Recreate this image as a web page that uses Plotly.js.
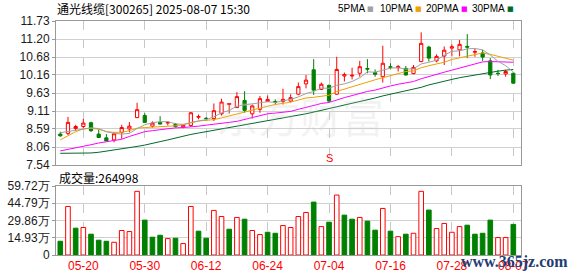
<!DOCTYPE html>
<html><head><meta charset="utf-8">
<script src="https://cdn.plot.ly/plotly-3.0.1.min.js"></script>
<style>html,body{margin:0;padding:0;background:#fff}#chart{width:578px;height:276px}</style>
</head><body><div id="chart"></div>
<script>
const dates = ['05-15','05-16','05-19','05-20','05-21','05-22','05-23','05-26','05-27','05-28','05-29','05-30',
 '06-03','06-04','06-05','06-06','06-09','06-10','06-11','06-12','06-13','06-16','06-17','06-18','06-19','06-20','06-23','06-24','06-25','06-26','06-27','06-30',
 '07-01','07-02','07-03','07-04','07-07','07-08','07-09','07-10','07-11','07-14','07-15','07-16','07-17','07-18','07-21','07-22','07-23','07-24','07-25','07-28','07-29','07-30','07-31',
 '08-01','08-04','08-05','08-06','08-07'];
const openP  = [8.44,8.46,8.60,8.66,8.77,8.44,8.33,8.27,8.49,8.59,8.92,8.98,8.67,8.78,8.76,8.72,8.65,8.69,8.93,8.90,8.89,9.03,9.30,9.21,9.42,9.03,9.16,9.39,9.39,9.39,
 9.40,9.60,9.90,10.31,9.74,9.86,9.60,10.13,10.13,10.21,10.35,10.23,10.11,10.40,10.37,10.35,10.20,10.55,10.97,10.57,10.71,10.94,10.89,10.99,10.82,10.80,10.57,10.21,10.19,10.21];
const highP  = [8.51,8.94,8.71,8.88,8.80,8.57,8.44,8.49,8.71,8.79,9.35,9.05,8.81,8.96,8.81,8.76,8.73,9.08,9.01,8.93,9.33,9.47,9.33,9.66,9.69,9.30,9.55,9.56,9.45,9.76,
 9.60,9.94,10.16,10.62,9.94,9.88,10.69,10.23,10.37,10.57,10.62,10.32,11.01,10.50,10.45,10.42,10.45,11.40,11.01,10.76,10.99,11.05,11.18,11.35,10.92,10.89,10.65,10.31,10.31,10.23];
const lowP   = [8.36,8.41,8.54,8.61,8.50,8.34,8.24,8.20,8.30,8.49,8.90,8.77,8.63,8.73,8.69,8.63,8.61,8.65,8.87,8.82,8.82,8.98,9.04,9.20,9.06,8.89,9.06,9.39,9.30,9.30,
 9.36,9.57,9.77,9.58,9.72,9.38,9.58,9.97,10.03,10.11,10.21,10.11,9.94,10.32,10.26,10.14,10.18,10.53,10.55,10.53,10.45,10.70,10.70,10.65,10.69,10.57,10.04,10.13,10.11,9.92];
const closeP = [8.39,8.78,8.66,8.76,8.54,8.34,8.24,8.45,8.63,8.67,9.15,8.78,8.76,8.73,8.78,8.66,8.70,9.06,8.95,8.89,9.12,9.37,9.33,9.53,9.13,9.26,9.47,9.45,9.37,9.45,
 9.50,9.82,10.01,9.72,9.89,9.40,10.32,10.17,10.15,10.40,10.33,10.18,10.50,10.38,10.40,10.16,10.38,11.08,10.65,10.70,10.88,10.98,11.05,10.97,10.84,10.68,10.16,10.20,10.26,9.92];
const prevClose = 8.45;
const ma5  = [8.48,8.52,8.56,8.60,8.62,8.60,8.51,8.46,8.44,8.46,8.60,8.71,8.77,8.80,8.80,8.74,8.72,8.78,8.82,8.86,8.94,9.06,9.13,9.25,9.29,9.32,9.35,9.38,9.36,9.40,9.45,
 9.52,9.62,9.68,9.78,9.77,9.86,9.90,9.97,10.08,10.25,10.24,10.30,10.36,10.37,10.33,10.34,10.48,10.53,10.59,10.73,10.85,10.86,10.92,10.93,10.89,10.74,10.56,10.43,10.25];
const ma10 = [8.27,8.38,8.51,8.59,8.61,8.58,8.51,8.49,8.49,8.54,8.61,8.63,8.64,8.65,8.66,8.68,8.71,8.77,8.82,8.84,8.86,8.91,8.97,9.03,9.07,9.13,9.20,9.25,9.30,9.33,9.37,
 9.43,9.49,9.51,9.55,9.57,9.68,9.75,9.82,9.90,9.97,10.02,10.08,10.14,10.20,10.26,10.28,10.37,10.43,10.47,10.53,10.61,10.66,10.72,10.76,10.80,10.76,10.70,10.66,10.59];
const ma20 = [7.95,7.99,8.04,8.08,8.13,8.18,8.21,8.24,8.29,8.37,8.45,8.51,8.54,8.57,8.59,8.62,8.63,8.64,8.67,8.70,8.72,8.75,8.78,8.81,8.86,8.92,8.98,9.03,9.05,9.08,9.10,
 9.16,9.22,9.27,9.33,9.36,9.44,9.50,9.56,9.63,9.68,9.72,9.79,9.84,9.89,9.93,9.97,10.05,10.12,10.18,10.24,10.30,10.36,10.42,10.48,10.54,10.55,10.55,10.55,10.53];
const ma30 = [7.88,7.88,7.88,7.88,7.89,7.91,7.94,7.97,8.00,8.04,8.08,8.12,8.16,8.22,8.27,8.33,8.39,8.43,8.47,8.51,8.55,8.59,8.63,8.67,8.71,8.74,8.78,8.82,8.86,8.90,8.93,
 8.98,9.03,9.08,9.13,9.17,9.23,9.28,9.33,9.39,9.44,9.49,9.55,9.60,9.64,9.68,9.73,9.80,9.87,9.93,9.98,10.03,10.08,10.12,10.17,10.21,10.24,10.27,10.30,10.32];
const volume = [11.9,42.0,23.2,23.8,18.0,12.8,11.9,11.0,21.2,20.3,55.1,30.2,15.4,17.1,14.2,14.5,9.9,42.0,20.6,14.5,38.6,33.3,22.3,32.5,31.0,21.2,17.7,19.7,18.8,25.5,23.8,
 33.3,36.8,45.8,24.6,28.4,51.9,34.5,31.0,32.5,29.3,21.5,40.3,20.6,15.9,18.0,18.8,55.1,38.9,22.9,27.3,19.7,24.6,25.8,18.0,18.8,30.2,15.1,15.1,26.5];
const priceTicks = [7.54,8.06,8.59,9.11,9.63,10.16,10.68,11.20,11.73];
const priceTickText = ['7.54','8.06','8.59','9.11','9.63','10.16','10.68','11.20','11.73'];
const volTicks = [0,14.93,29.86,44.79,59.72];
const volTickText = ['0','14.93万','29.86万','44.79万','59.72万'];
const dateTicks = ['05-20','05-30','06-12','06-24','07-04','07-16','07-28','08-07'];
const titleText = '通光线缆[300265] 2025-08-07 15:30';
const lastVolText = '成交量:264998';
const legendNames = ['5PMA','10PMA','20PMA','30PMA'];
const signalDate = '07-04';
const signalText = 'S';

const RED = '#ff0000', GREEN = '#008000';
const maColors = ['#a0a0a0', '#f0a000', '#ff00ff', '#006a2a'];
const idx = dates.map((d, i) => i);
const tickIdx = dateTicks.map(d => dates.indexOf(d));
const up = closeP.map((c, i) => c >= (i === 0 ? prevClose : closeP[i - 1]));

const W = 578, H = 276, L = 56, R = 57, T = 21, B = 21;
const pw = W - L - R, ph = H - T - B;
const px = x => (x - L) / pw;
const py = y => (H - B - y) / ph;

const maLine = (y, color, name) => ({type: 'scatter', mode: 'lines', x: idx, y: y, name: name,
  line: {color: color, width: 1}, xaxis: 'x', yaxis: 'y', hoverinfo: 'skip'});

const traces = [
  maLine(ma30, maColors[3], legendNames[3]),
  maLine(ma20, maColors[2], legendNames[2]),
  maLine(ma10, maColors[1], legendNames[1]),
  maLine(ma5, maColors[0], legendNames[0]),
  {type: 'candlestick', x: idx, open: openP, high: highP, low: lowP, close: closeP,
   xaxis: 'x', yaxis: 'y', whiskerwidth: 0,
   increasing: {line: {color: RED, width: 1}, fillcolor: '#ffffff'},
   decreasing: {line: {color: GREEN, width: 1}, fillcolor: GREEN}, hoverinfo: 'skip'},
  {type: 'bar', x: idx, y: volume, xaxis: 'x2', yaxis: 'y2', width: 0.6,
   marker: {color: up.map(u => u ? '#ffffff' : GREEN), line: {color: up.map(u => u ? RED : GREEN), width: 1}},
   hoverinfo: 'skip'}
];

const xr = [-0.56, dates.length + 0.0];
const baseX = {range: xr, tickvals: tickIdx, ticktext: dateTicks, showgrid: true, griddash: 'dash',
  gridcolor: '#c8c8c8', gridwidth: 1, zeroline: false, showline: true, mirror: true, linecolor: '#999999',
  ticks: '', fixedrange: true};
const tickFont = {family: 'Liberation Sans, Arial, sans-serif', size: 12, color: '#1a1a1a'};

const legendX = [337, 379, 425, 471];
const squareX = [366, 414, 460, 506];
const legendAnn = [];
legendNames.forEach((n, i) => {
  legendAnn.push({xref: 'paper', yref: 'paper', x: px(legendX[i]), y: py(9), xanchor: 'left', yanchor: 'middle',
    text: n, showarrow: false, borderpad: 0, font: {family: 'Liberation Sans, Arial', size: 10, color: '#000'}});
  legendAnn.push({xref: 'paper', yref: 'paper', x: px(squareX[i]), y: py(9), xanchor: 'left', yanchor: 'middle',
    text: '■', showarrow: false, borderpad: 0, font: {family: 'DejaVu Sans', size: 7, color: maColors[i]}});
});

const layout = {
  width: W, height: H, margin: {l: L, r: R, t: T, b: B}, showlegend: false,
  paper_bgcolor: '#ffffff', plot_bgcolor: '#ffffff', boxgap: 0.4,
  xaxis: Object.assign({}, baseX, {anchor: 'y', showticklabels: false, rangeslider: {visible: false}}),
  xaxis2: Object.assign({}, baseX, {anchor: 'y2', showticklabels: true,
    tickfont: {family: 'Liberation Sans, Arial, sans-serif', size: 12, color: RED}}),
  yaxis: {domain: [(H - B - 165) / ph, 1], range: [priceTicks[0], priceTicks[priceTicks.length - 1]],
    tickvals: priceTicks, ticktext: priceTickText, tickfont: tickFont, gridcolor: '#d0d0d0',
    zeroline: false, showline: true, mirror: true, linecolor: '#999999', ticks: 'outside', ticklen: 3,
    tickcolor: '#999999', fixedrange: true},
  yaxis2: {domain: [0, (H - B - 186) / ph], range: [volTicks[0], volTicks[volTicks.length - 1]],
    tickvals: volTicks, ticktext: volTickText, tickfont: tickFont, gridcolor: '#d0d0d0',
    zeroline: false, showline: true, mirror: true, linecolor: '#999999', ticks: 'outside', ticklen: 3,
    tickcolor: '#999999', fixedrange: true},
  annotations: [
    {xref: 'paper', yref: 'paper', x: px(300), y: py(82), text: '东方财富', showarrow: false,
     font: {family: 'Noto Sans CJK SC', size: 42, color: 'rgba(200,200,200,0.22)'}},
    {xref: 'paper', yref: 'paper', x: px(55), y: py(9), xanchor: 'left', yanchor: 'middle', text: titleText,
     showarrow: false, font: {family: 'Noto Sans CJK SC', size: 12, color: '#000'}},
    {xref: 'paper', yref: 'paper', x: px(57), y: py(177), xanchor: 'left', yanchor: 'middle', text: lastVolText,
     showarrow: false, font: {family: 'Noto Sans CJK SC', size: 12, color: '#000'}},
    {xref: 'x', yref: 'paper', x: dates.indexOf(signalDate), y: py(158), text: signalText, showarrow: false,
     font: {family: 'Liberation Sans, Arial', size: 11, color: RED}},
    {xref: 'paper', yref: 'paper', x: px(570), y: py(262), xanchor: 'right', yanchor: 'middle', text: '<b>www.365jz.com</b>',
     showarrow: false, font: {family: 'Liberation Serif, serif', size: 16, color: '#1f3d73'}}
  ].concat(legendAnn)
};

Plotly.newPlot('chart', traces, layout, {staticPlot: true, displayModeBar: false});
</script></body></html>
